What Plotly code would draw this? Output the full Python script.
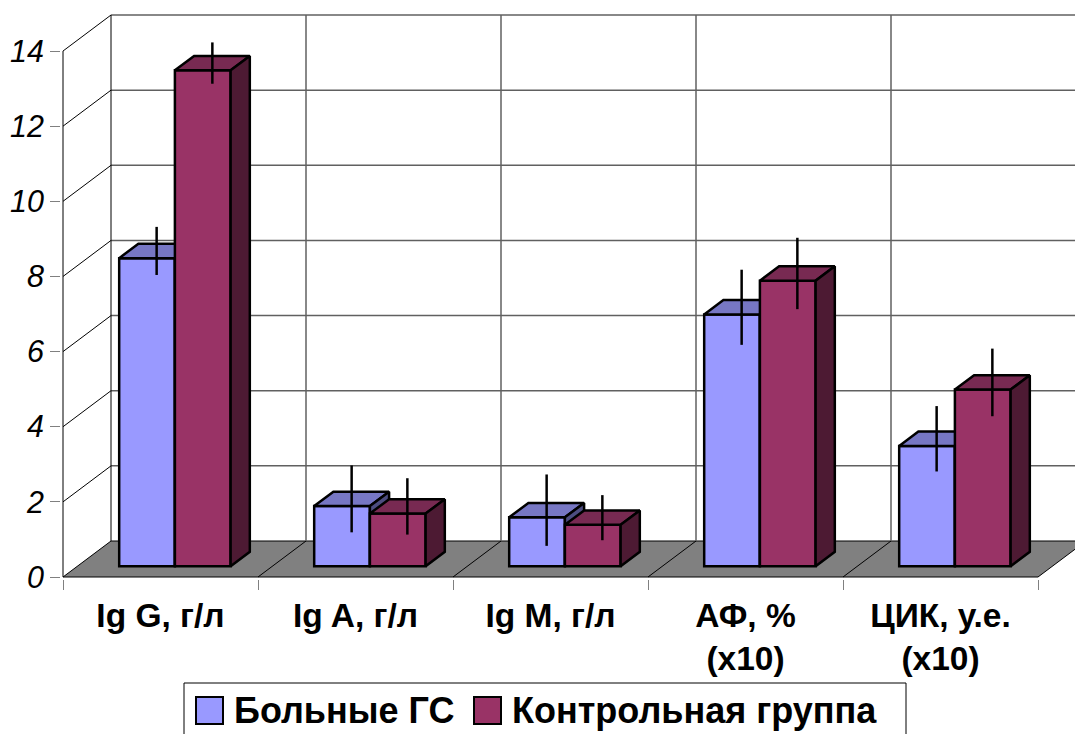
import plotly.graph_objects as go

# ---------------- data ----------------
categories = ["Ig G, г/л", "Ig A, г/л", "Ig M, г/л", "АФ, %<br>(x10)", "ЦИК, у.е.<br>(x10)"]
series_names = ["Больные ГС", "Контрольная группа"]
patients = [8.2, 1.6, 1.3, 6.7, 3.2]
control = [13.2, 1.4, 1.1, 7.6, 4.7]
patients_err = [0.64, 0.89, 0.95, 1.0, 0.87]
control_err = [0.55, 0.75, 0.60, 0.95, 0.90]
y_ticks = [0, 2, 4, 6, 8, 10, 12, 14]

# ---------------- geometry / style ----------------
W, H = 1075, 734
PX_CAT = 195.0          # pixels per category
PX_UNIT = 37.57         # pixels per value unit
X0_PX, Y0_PX = 63, 577  # front-left origin of the chart (px)
ML = 61
MR = 0
MT = 0
MB = H - Y0_PX - 2
PW = W - ML - MR
PH = H - MT - MB
x_lo = -(X0_PX - ML) / PX_CAT
x_hi = x_lo + PW / PX_CAT
y_lo = -(H - MB - Y0_PX) / PX_UNIT
y_hi = y_lo + PH / PX_UNIT

DX = 48 / PX_CAT        # depth offset in x units
DY = 36 / PX_UNIT       # depth offset in value units
D_FRONT, D_BACK = 0.3, 0.7
BAR_W = 1 / 3.5
GAP = 0.75 * BAR_W
N = len(categories)

FONT = "Liberation Sans, Arial, sans-serif"
BLUE, BLUE_TOP, BLUE_SIDE = "#9999FF", "#7777C4", "#4D4D80"
MAR, MAR_TOP, MAR_SIDE = "#993366", "#782A52", "#4D1A33"
GRID = "#606060"

fig = go.Figure()
shapes = []

wall_top = y_ticks[-1] + DY
# floor
shapes.append(dict(type="path", xref="x", yref="y", layer="below",
                   path=f"M0,0 L{N},0 L{N+DX},{DY} L{DX},{DY} Z",
                   fillcolor="#808080", line=dict(color="black", width=1)))
# floor division lines
for k in range(1, N):
    shapes.append(dict(type="line", xref="x", yref="y", layer="below",
                       x0=k, y0=0, x1=k + DX, y1=DY, line=dict(color="black", width=1)))
# side wall diagonals + back wall horizontals
for v in y_ticks:
    if v > 0:
        shapes.append(dict(type="line", xref="x", yref="y", layer="below",
                           x0=0, y0=v, x1=DX, y1=v + DY, line=dict(color="black", width=1)))
        shapes.append(dict(type="line", xref="x", yref="y", layer="below",
                           x0=DX, y0=v + DY, x1=x_hi + 1, y1=v + DY,
                           line=dict(color=GRID, width=1.5)))
# back wall verticals
for k in range(1, N + 1):
    shapes.append(dict(type="line", xref="x", yref="y", layer="below",
                       x0=k + DX, y0=DY, x1=k + DX, y1=wall_top,
                       line=dict(color=GRID, width=1.5)))
shapes.append(dict(type="line", xref="x", yref="y", layer="below",
                   x0=DX, y0=DY, x1=DX, y1=wall_top, line=dict(color="black", width=1)))
# front vertical axis line
shapes.append(dict(type="line", xref="x", yref="y", layer="below",
                   x0=0, y0=0, x1=0, y1=y_ticks[-1], line=dict(color="black", width=1)))

base = D_FRONT * DY
ddx = (D_BACK - D_FRONT) * DX
ddy = (D_BACK - D_FRONT) * DY


def add_series(values, errs, slot, name, c_front, c_top, c_side, z):
    x_left = [k + D_FRONT * DX + GAP + slot * BAR_W for k in range(N)]
    centers = [x + BAR_W / 2 for x in x_left]
    fig.add_trace(go.Bar(x=centers, y=values, base=[base] * N, width=BAR_W, name=name,
                         marker=dict(color=c_front, line=dict(color="black", width=2.5)),
                         showlegend=False, zorder=z))
    tx, ty, sx, sy = [], [], [], []
    for x0, v in zip(x_left, values):
        x1 = x0 + BAR_W
        top = base + v
        tx += [x0, x1, x1 + ddx, x0 + ddx, x0, None]
        ty += [top, top, top + ddy, top + ddy, top, None]
        sx += [x1, x1, x1 + ddx, x1 + ddx, x1, None]
        sy += [base, top, top + ddy, base + ddy, base, None]
    fig.add_trace(go.Scatter(x=tx, y=ty, mode="lines", fill="toself", fillcolor=c_top,
                             line=dict(color="black", width=2.5), showlegend=False,
                             hoverinfo="skip", zorder=z))
    fig.add_trace(go.Scatter(x=sx, y=sy, mode="lines", fill="toself", fillcolor=c_side,
                             line=dict(color="black", width=2.5), showlegend=False,
                             hoverinfo="skip", zorder=z))
    mid = 0.5 * (D_FRONT + D_BACK)
    ex = [x + BAR_W / 2 + (mid - D_FRONT) * DX for x in x_left]
    ey = [v + mid * DY for v in values]
    fig.add_trace(go.Scatter(x=ex, y=ey, mode="markers",
                             marker=dict(size=2, color="rgba(0,0,0,0)"),
                             error_y=dict(type="data", array=errs, visible=True, width=0,
                                          thickness=2.5, color="black"),
                             showlegend=False, hoverinfo="skip", zorder=10))


add_series(patients, patients_err, 0, series_names[0], BLUE, BLUE_TOP, BLUE_SIDE, 1)
add_series(control, control_err, 1, series_names[1], MAR, MAR_TOP, MAR_SIDE, 2)

# ---------------- custom legend ----------------
def pxx(px):
    return (px - ML) / PW


def pxy(py):
    return (H - MB - py) / PH


LEG_L, LEG_R, LEG_T, LEG_B = 184, 906, 683, 745
ROW = 710
shapes.append(dict(type="rect", xref="paper", yref="paper",
                   x0=pxx(LEG_L), x1=pxx(LEG_R), y0=pxy(LEG_B), y1=pxy(LEG_T),
                   fillcolor="white", line=dict(color="black", width=1)))
legend_items = [(series_names[0], BLUE, 196, 232), (series_names[1], MAR, 474, 510)]
annotations = []
for name, col, sw_x, tx in legend_items:
    shapes.append(dict(type="rect", xref="paper", yref="paper",
                       x0=pxx(sw_x), x1=pxx(sw_x + 27), y0=pxy(ROW + 14), y1=pxy(ROW - 13),
                       fillcolor=col, line=dict(color="black", width=2)))
    annotations.append(dict(xref="paper", yref="paper", x=pxx(tx), y=pxy(ROW),
                            xanchor="left", yanchor="middle", showarrow=False, text=name,
                            font=dict(family=FONT, size=36, color="black", weight="bold")))

fig.update_layout(
    width=W, height=H, autosize=False,
    margin=dict(l=ML, r=MR, t=MT, b=MB, pad=0),
    paper_bgcolor="white", plot_bgcolor="white",
    barmode="overlay", showlegend=False,
    shapes=shapes, annotations=annotations,
    xaxis=dict(range=[x_lo, x_hi], showgrid=False, zeroline=False, showline=False,
               tickmode="array", tickvals=[k + 0.5 for k in range(N)], ticktext=categories,
               ticks="", ticklabelstandoff=13,
               tickfont=dict(family=FONT, size=33.5, color="black", weight="bold"),
               minor=dict(tickmode="array", tickvals=list(range(N + 1)), ticks="outside",
                          ticklen=10, tickcolor="#808080", tickwidth=1, showgrid=False),
               fixedrange=True),
    yaxis=dict(range=[y_lo, y_hi], showgrid=False, zeroline=False, showline=False,
               tickmode="array", tickvals=y_ticks, ticks="outside", ticklen=10,
               tickcolor="#808080", tickwidth=1, ticklabelstandoff=0,
               tickfont=dict(family=FONT, size=30.5, color="black", style="italic"),
               fixedrange=True),
)

fig.write_html("out.html", post_script="document.body.style.margin='0';",
               config={"displayModeBar": False})
